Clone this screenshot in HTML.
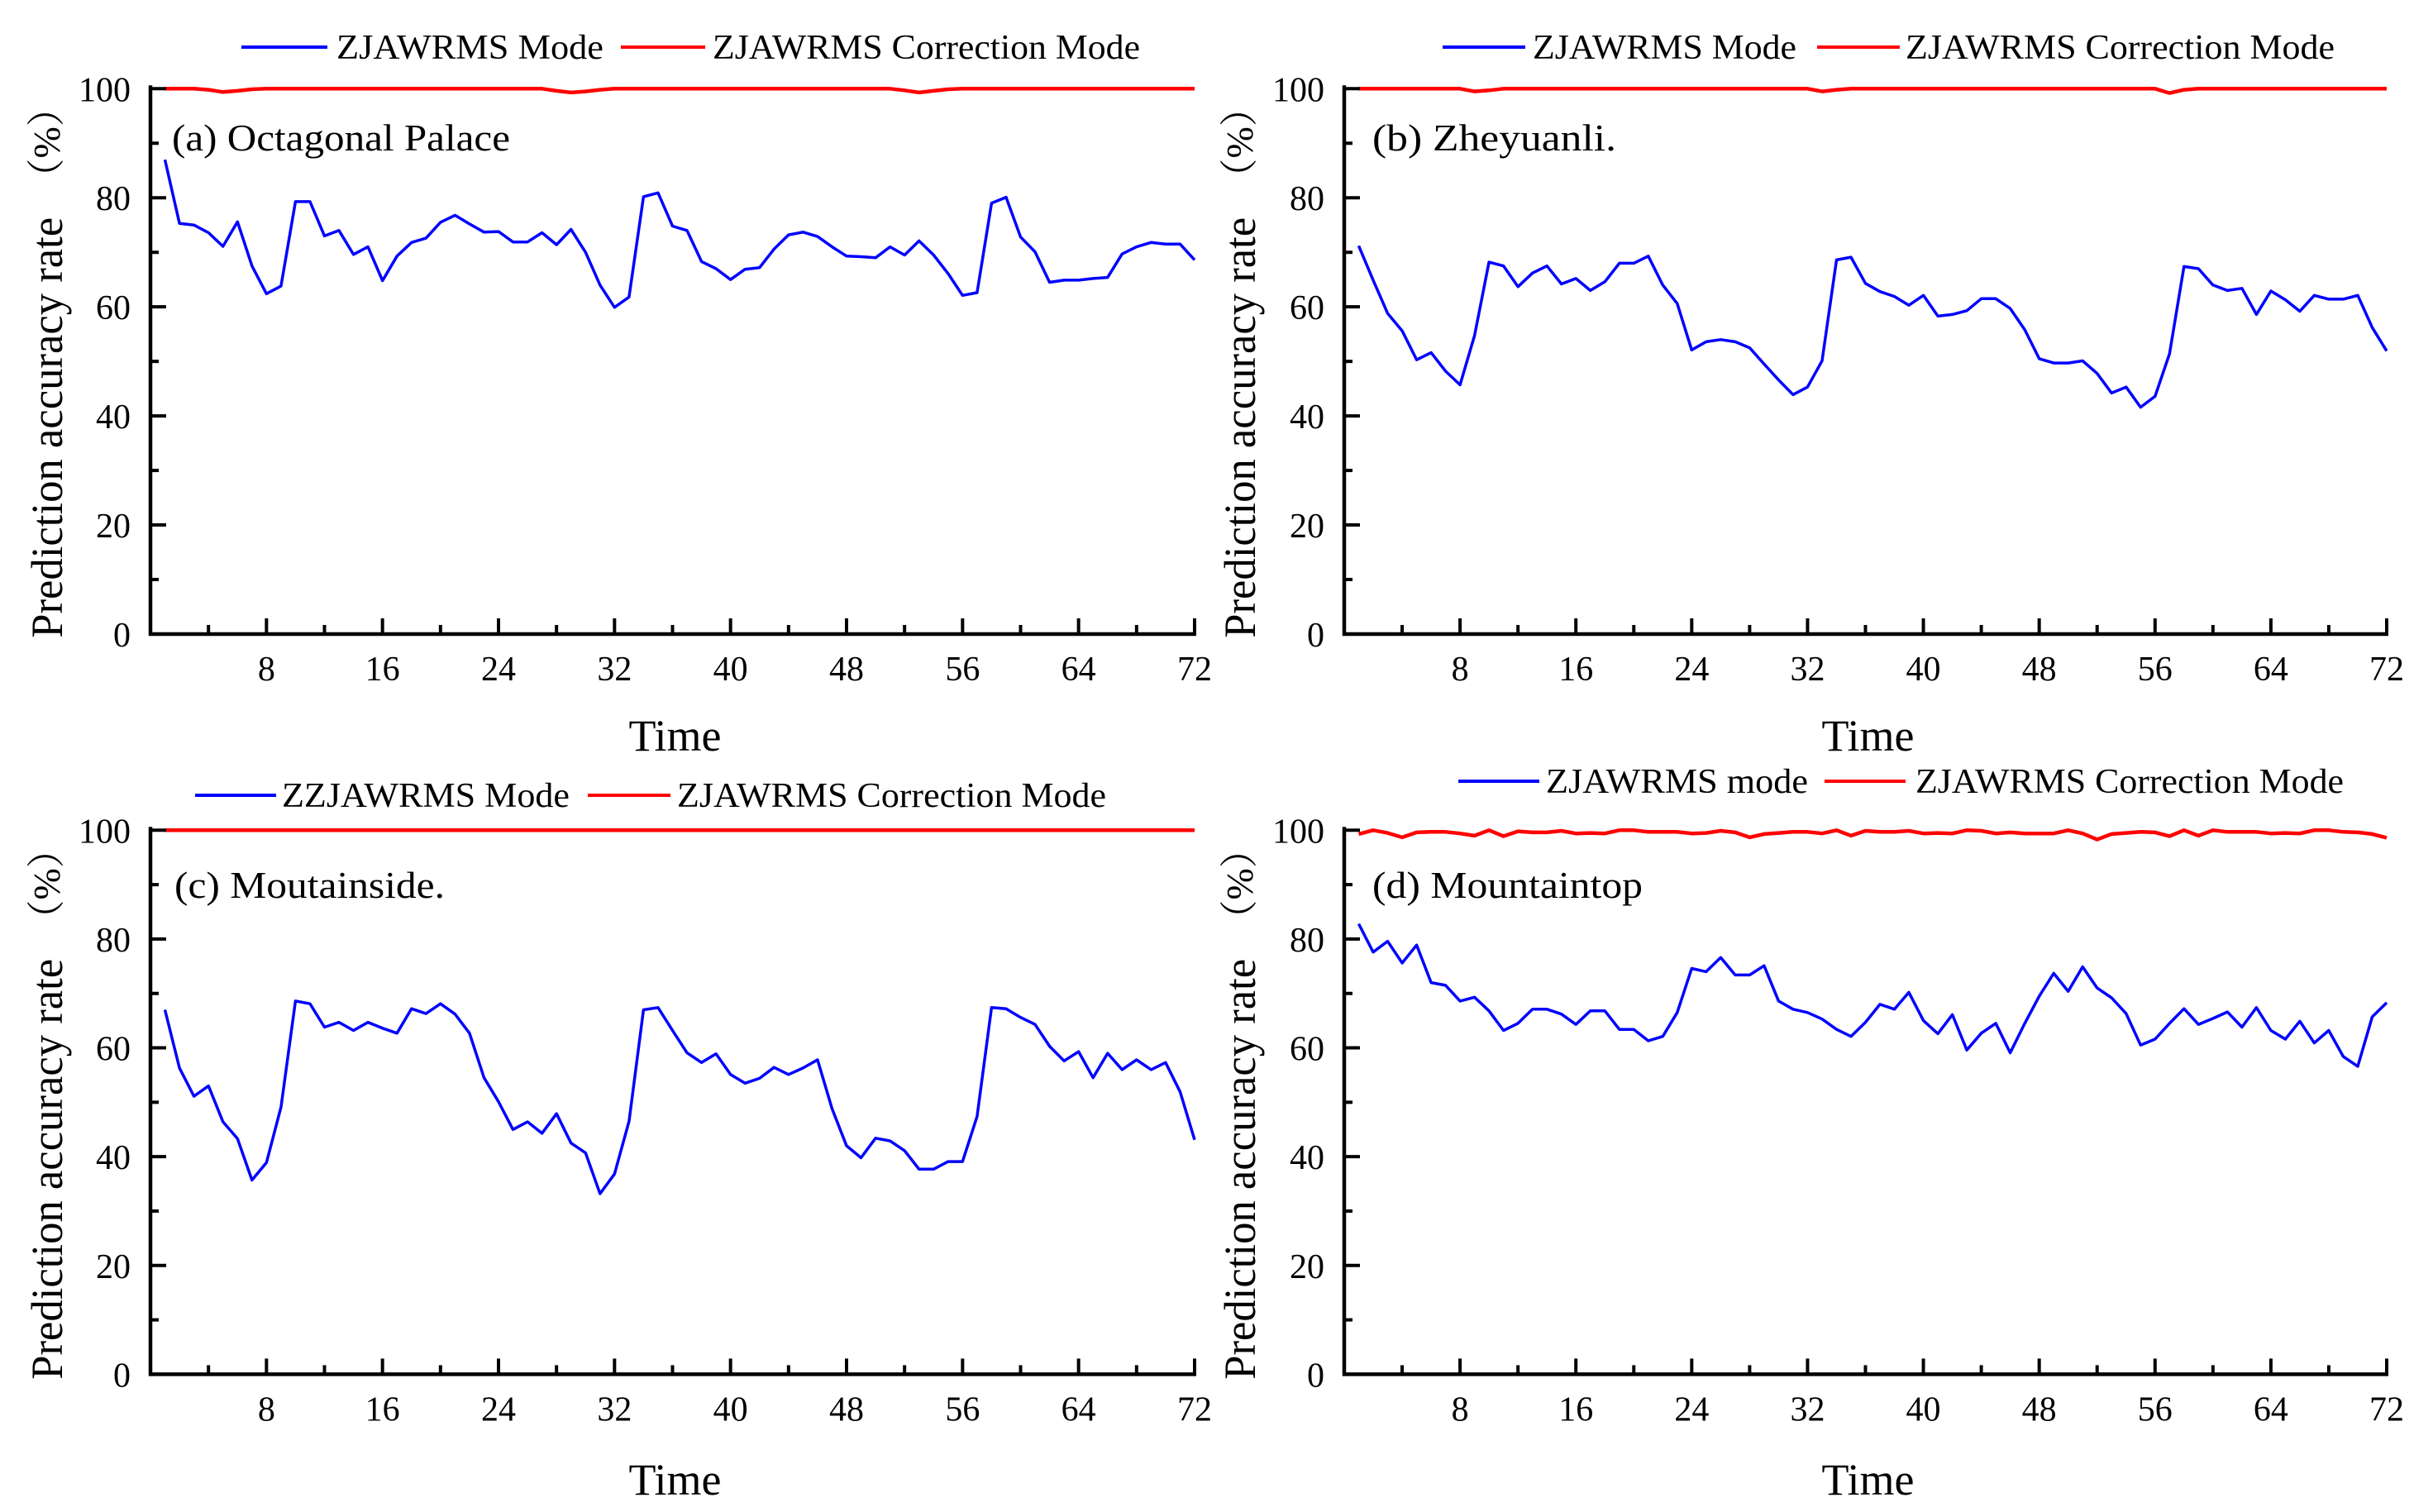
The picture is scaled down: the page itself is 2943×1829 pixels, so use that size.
<!DOCTYPE html>
<html><head><meta charset="utf-8">
<style>
html,body{margin:0;padding:0;background:#fff;}
svg{display:block;font-family:"Liberation Serif","Noto Serif CJK SC",serif;}
</style></head>
<body>
<svg id="fig" width="2943" height="1829" viewBox="0 0 2943 1829" xmlns="http://www.w3.org/2000/svg"></svg>
<script>
const timeSteps = Array.from({length:72},(_,i)=>i+1);
const xTickLabels = ["8","16","24","32","40","48","56","64","72"];
const yTickLabels = ["0","20","40","60","80","100"];

const blueA = [87,75.3,75,73.6,71.1,75.6,67.5,62.4,63.8,79.3,79.3,73,74,69.6,71,64.8,69.3,71.8,72.6,75.5,76.8,75.2,73.7,73.8,71.9,71.9,73.6,71.4,74.2,70,64,59.9,61.8,80.2,80.9,74.8,74,68.3,67,65,66.9,67.2,70.6,73.2,73.7,72.9,71,69.3,69.2,69,71,69.5,72.1,69.5,66.1,62.1,62.6,79,80.1,72.8,70.1,64.5,64.9,64.9,65.2,65.4,69.7,71,71.8,71.5,71.5,68.6];
const redA = [100,100,100,99.8,99.4,99.6,99.9,100,100,100,100,100,100,100,100,100,100,100,100,100,100,100,100,100,100,100,100,99.6,99.3,99.5,99.8,100,100,100,100,100,100,100,100,100,100,100,100,100,100,100,100,100,100,100,100,99.7,99.3,99.6,99.9,100,100,100,100,100,100,100,100,100,100,100,100,100,100,100,100,100];

const blueB = [71.2,64.9,58.8,55.6,50.3,51.6,48.2,45.7,54.7,68.2,67.5,63.7,66.2,67.5,64.2,65.2,63,64.6,68,68,69.3,64,60.6,52.1,53.6,54,53.6,52.5,49.5,46.6,43.9,45.3,50.1,68.6,69.1,64.3,62.8,61.9,60.3,62.1,58.3,58.6,59.3,61.5,61.5,59.7,55.8,50.5,49.7,49.7,50.1,47.8,44.2,45.3,41.6,43.6,51.4,67.4,67,64,63,63.4,58.6,62.9,61.3,59.2,62.1,61.4,61.4,62.1,56.2,51.9];
const redB = [100,100,100,100,100,100,100,100,99.5,99.7,100,100,100,100,100,100,100,100,100,100,100,100,100,100,100,100,100,100,100,100,100,100,99.5,99.8,100,100,100,100,100,100,100,100,100,100,100,100,100,100,100,100,100,100,100,100,100,100,99.2,99.8,100,100,100,100,100,100,100,100,100,100,100,100,100,100];

const blueC = [67,56.3,51.1,53,46.4,43.3,35.7,38.9,49.1,68.6,68.1,63.8,64.7,63.2,64.7,63.6,62.7,67.2,66.3,68.1,66.2,62.7,54.5,50.1,45,46.4,44.3,47.9,42.5,40.7,33.2,36.8,46.5,67,67.4,63.2,59.1,57.3,58.9,55.1,53.5,54.4,56.4,55.1,56.3,57.8,48.8,42,39.8,43.4,42.9,41.1,37.7,37.7,39.1,39.1,47.4,67.4,67.2,65.6,64.3,60.3,57.6,59.3,54.5,59,56,57.8,56,57.3,51.9,43.1];
const redC = [100,100,100,100,100,100,100,100,100,100,100,100,100,100,100,100,100,100,100,100,100,100,100,100,100,100,100,100,100,100,100,100,100,100,100,100,100,100,100,100,100,100,100,100,100,100,100,100,100,100,100,100,100,100,100,100,100,100,100,100,100,100,100,100,100,100,100,100,100,100,100,100];

const blueD = [82.8,77.6,79.6,75.6,78.9,72,71.5,68.6,69.3,66.8,63.2,64.5,67.1,67.1,66.2,64.3,66.8,66.8,63.4,63.4,61.3,62.1,66.5,74.6,74,76.6,73.4,73.4,75.1,68.6,67.1,66.5,65.3,63.4,62.1,64.7,68,67.1,70.2,65,62.6,66.1,59.6,62.7,64.5,59.1,64.5,69.5,73.7,70.4,74.9,71,69.2,66.3,60.5,61.6,64.5,67.2,64.3,65.4,66.6,63.8,67.4,63.2,61.6,64.9,60.9,63.2,58.4,56.6,65.7,68.3];
const redD = [99.3,100,99.5,98.7,99.6,99.7,99.7,99.4,99,100,98.9,99.8,99.6,99.6,99.9,99.4,99.5,99.4,100,100,99.7,99.7,99.7,99.4,99.5,99.9,99.6,98.7,99.3,99.5,99.7,99.7,99.4,100,99,99.9,99.7,99.7,99.9,99.4,99.5,99.4,100,99.9,99.4,99.6,99.4,99.4,99.4,100,99.4,98.3,99.3,99.5,99.7,99.6,98.9,100,99,100,99.7,99.7,99.7,99.4,99.5,99.4,100,100,99.7,99.6,99.3,98.6];

const svg = document.getElementById('fig');
const NS = 'http://www.w3.org/2000/svg';
function mk(tag, attrs, parent, txt){
  const e = document.createElementNS(NS, tag);
  for (const k in attrs) e.setAttribute(k, attrs[k]);
  if (txt !== undefined) e.textContent = txt;
  (parent||svg).appendChild(e);
  return e;
}

const panels = [
  {id:'a', L:182, R:1445, T:107.3, B:767, blue:blueA, red:redA, label:'(a) Octagonal Palace', lx:208, ly:166, lw:409,
   leg:{b1:292,b2:396,t1:407,t1w:323,r1:751,r2:853,t2:862,t2w:517,y:57}, blueName:'ZJAWRMS Mode', titleX:56, timeY:890},
  {id:'b', L:1626, R:2887, T:107.3, B:767, blue:blueB, red:redB, label:'(b)  Zheyuanli.', lx:1660, ly:166, lw:295,
   leg:{b1:1745,b2:1845,t1:1854,t1w:319,r1:2198,r2:2298,t2:2305,t2w:519,y:57}, blueName:'ZJAWRMS Mode', titleX:1499, timeY:890},
  {id:'c', L:182, R:1445, T:1004.3, B:1662.4, blue:blueC, red:redC, label:'(c) Moutainside.', lx:211, ly:1070, lw:327,
   leg:{b1:236,b2:334,t1:341,t1w:348,r1:711,r2:811,t2:819,t2w:519,y:962}, blueName:'ZZJAWRMS Mode', titleX:56, timeY:1790},
  {id:'d', L:1626, R:2887, T:1004.3, B:1662.4, blue:blueD, red:redD, label:'(d) Mountaintop', lx:1660, ly:1070, lw:327,
   leg:{b1:1764,b2:1862,t1:1870,t1w:317,r1:2207,r2:2305,t2:2317,t2w:518,y:945}, blueName:'ZJAWRMS mode', titleX:1499, timeY:1790}
];

panels.forEach(p=>{
  const g = mk('g', {});
  
  
  const xs = v => p.L + (p.R - p.L) * v / 72;
  const ys = v => p.B - (p.B - p.T) * v / 100;

  const mkPath = (arr) => arr.map((v,i)=>(i?'L':'M')+xs(timeSteps[i]).toFixed(1)+' '+ys(v).toFixed(1)).join(' ');
  const red = mk('path', {d:mkPath(p.red), fill:'none', stroke:'#ff0000', 'stroke-width':4.5, 'stroke-linejoin':'round'}, g);
  
  
  const blue = mk('path', {d:mkPath(p.blue), fill:'none', stroke:'#0000ff', 'stroke-width':3.5, 'stroke-linejoin':'round'}, g);
  
  

  const ax = mk('path', {d:`M${p.L} ${p.T-4} L${p.L} ${p.B} L${p.R+2} ${p.B}`, fill:'none', stroke:'#000', 'stroke-width':4.5}, g);
  
  
  for (let v=4; v<=72; v+=4){
    const len = (v%8===0)?19:11;
    const t = mk('line', {x1:xs(v), x2:xs(v), y1:p.B, y2:p.B-len, stroke:'#000', 'stroke-width':4}, g);
    
    
  }
  xTickLabels.forEach(s=>{
    const t = mk('text', {x:xs(+s), y:p.B+56, 'font-size':42, 'text-anchor':'middle'}, g, s);
    
    
  });
  for (let v=10; v<=100; v+=10){
    const len = (v%20===0)?19:10;
    const t = mk('line', {x1:p.L, x2:p.L+len, y1:ys(v), y2:ys(v), stroke:'#000', 'stroke-width':4}, g);
    
    
  }
  yTickLabels.forEach(s=>{
    const t = mk('text', {x:p.L-24, y:ys(+s)+15, 'font-size':42, 'text-anchor':'end'}, g, s);
    
    
  });

  const yt = mk('text', {transform:`translate(${p.titleX+19},${p.T+410}) rotate(-90)`, 'font-size':54, 'text-anchor':'middle', textLength:509, lengthAdjust:'spacingAndGlyphs'}, g, 'Prediction accuracy rate');
  
  
  const yp = mk('text', {transform:`translate(${p.titleX+16},${p.T+65}) rotate(-90)`, 'font-size':46, 'text-anchor':'middle'}, g, '（%）');
  
  
  const xt = mk('text', {x:(p.L+p.R)/2 + 3, y:p.timeY+18, 'font-size':54, 'text-anchor':'middle'}, g, 'Time');
  
  

  const pl = mk('text', {x:p.lx, y:p.ly+16, 'font-size':46, textLength:p.lw, lengthAdjust:'spacingAndGlyphs'}, g, p.label);
  
  

  const L = p.leg;
  const lg = mk('g', {}, g);
  
  
  const b = mk('line', {x1:L.b1, x2:L.b2, y1:L.y, y2:L.y, stroke:'#0000ff', 'stroke-width':4}, lg);
  
  
  const bt = mk('text', {x:L.t1, y:L.y+14, 'font-size':42, textLength:L.t1w, lengthAdjust:'spacingAndGlyphs'}, lg, p.blueName);
  
  
  const r = mk('line', {x1:L.r1, x2:L.r2, y1:L.y, y2:L.y, stroke:'#ff0000', 'stroke-width':4}, lg);
  
  
  const rt = mk('text', {x:L.t2, y:L.y+14, 'font-size':42, textLength:L.t2w, lengthAdjust:'spacingAndGlyphs'}, lg, 'ZJAWRMS Correction Mode');
  
  
});
</script>
</body></html>
